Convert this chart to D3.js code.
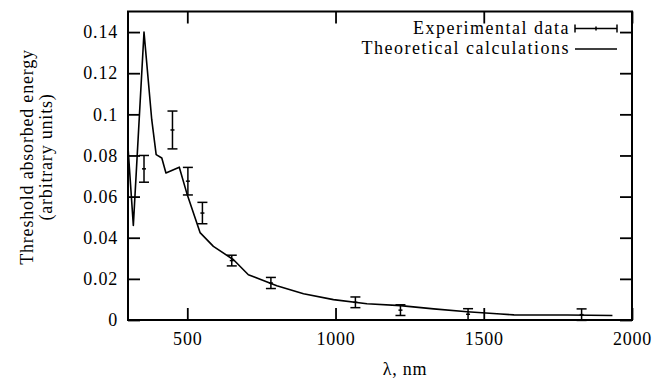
<!DOCTYPE html>
<html><head><meta charset="utf-8">
<script src="https://cdn.jsdelivr.net/npm/d3@7"></script>
<style>
body{margin:0;background:#fff}
svg{display:block}
</style>
</head><body>
<svg id="chart" width="663" height="381"></svg>
<script>
// ---- data ----
const xTicks = [500, 1000, 1500, 2000];
const yTicks = [0, 0.02, 0.04, 0.06, 0.08, 0.1, 0.12, 0.14];
const yTickLabels = ["0", "0.02", "0.04", "0.06", "0.08", "0.1", "0.12", "0.14"];

const theoryX = [300, 318, 354, 380, 395, 414, 428, 473, 498, 543, 588, 656, 706, 802, 892, 993, 1106, 1219, 1331, 1444, 1557, 1602, 1782, 1934];
const theoryY = [0.084, 0.046, 0.140, 0.0975, 0.0804, 0.0788, 0.0715, 0.0743, 0.0618, 0.0425, 0.0358, 0.0293, 0.0220, 0.0167, 0.0128, 0.0099, 0.0079, 0.0070, 0.0054, 0.0040, 0.0029, 0.0025, 0.0024, 0.0022];

const expX   = [354, 450, 502, 551, 650, 782, 1067, 1219, 1447, 1830];
const expY   = [0.0735, 0.0924, 0.0675, 0.052, 0.0289, 0.018, 0.0086, 0.0048, 0.0028, 0.0026];
const expErr = [0.0065, 0.0092, 0.0067, 0.0052, 0.0026, 0.0027, 0.0026, 0.0026, 0.0027, 0.0028];

const seriesNames = ["Experimental data", "Theoretical calculations"];
const xLabel = "λ, nm";
const yLabelLines = ["Threshold absorbed energy", "(arbitrary units)"];

// ---- layout ----
const W = 663, H = 381;
const m = {left: 128, right: 31, top: 11.5, bottom: 61};
const iw = W - m.left - m.right, ih = H - m.top - m.bottom;
const svg = d3.select("#chart");
const g = svg.append("g").attr("transform", `translate(${m.left},${m.top})`);
const FONT = '"Liberation Serif"';
const fs = 18;
const sw = 1.8;
function styleText(sel, size = fs, spacing = 0.8) {
  return sel.style("font-family", FONT).style("font-size", size + "px")
    .style("letter-spacing", spacing + "px").style("fill", "#000");
}

const x = d3.scaleLinear().domain([300, 2000]).range([0, iw]);
const y = d3.scaleLinear().domain([0, 0.15]).range([ih, 0]);

// axes (inward ticks, mirrored)
const ax = [
  g.append("g").attr("transform", `translate(0,${ih})`)
    .call(d3.axisBottom(x).tickValues(xTicks).tickFormat(d3.format("d")).tickSize(-12).tickPadding(12)),
  g.append("g")
    .call(d3.axisLeft(y).tickValues(yTicks).tickFormat((d, i) => yTickLabels[i]).tickSize(-12).tickPadding(10)),
  g.append("g")
    .call(d3.axisTop(x).tickValues(xTicks).tickFormat("").tickSize(-12)),
  g.append("g").attr("transform", `translate(${iw},0)`)
    .call(d3.axisRight(y).tickValues(yTicks).tickFormat("").tickSize(-12))
];
ax.forEach(a => {
  a.select(".domain").remove();
  a.selectAll("line").attr("stroke", "#000").attr("stroke-width", sw);
  styleText(a.selectAll("text"));
});

// frame
g.append("rect").attr("x", 0).attr("y", 0).attr("width", iw).attr("height", ih)
  .attr("fill", "none").attr("stroke", "#000").attr("stroke-width", 2);

// theory curve
const theory = theoryX.map((v, i) => [v, theoryY[i]]);
g.append("path").datum(theory)
  .attr("d", d3.line().x(d => x(d[0])).y(d => y(d[1])))
  .attr("fill", "none").attr("stroke", "#000").attr("stroke-width", 1.6).attr("stroke-linejoin", "round");

// error bars
const exp = expX.map((v, i) => ({x: v, y: expY[i], e: expErr[i]}));
const eb = g.append("g").attr("stroke", "#000").attr("stroke-width", 1.5).attr("fill", "none");
exp.forEach(d => {
  const cx = x(d.x), y1 = y(d.y - d.e), y2 = y(d.y + d.e), cy = y(d.y);
  eb.append("line").attr("x1", cx).attr("x2", cx).attr("y1", y1).attr("y2", y2);
  eb.append("line").attr("x1", cx - 5).attr("x2", cx + 5).attr("y1", y1).attr("y2", y1);
  eb.append("line").attr("x1", cx - 5).attr("x2", cx + 5).attr("y1", y2).attr("y2", y2);
  eb.append("line").attr("x1", cx - 2).attr("x2", cx + 2).attr("y1", cy).attr("y2", cy);
});

// legend
const lg = svg.append("g");
const lx1 = 575, lx2 = 617, textX = 570;
styleText(lg.append("text").attr("x", textX).attr("y", 33.5).attr("text-anchor", "end").text(seriesNames[0]), 18, 1.5);
styleText(lg.append("text").attr("x", textX).attr("y", 54).attr("text-anchor", "end").text(seriesNames[1]), 18, 1.5);
const ly1 = 28.5, ly2 = 49;
const ls = lg.append("g").attr("stroke", "#000").attr("stroke-width", 1.5);
ls.append("line").attr("x1", lx1).attr("x2", lx2).attr("y1", ly1).attr("y2", ly1);
ls.append("line").attr("x1", lx1).attr("x2", lx1).attr("y1", ly1 - 4).attr("y2", ly1 + 4);
ls.append("line").attr("x1", lx2).attr("x2", lx2).attr("y1", ly1 - 4).attr("y2", ly1 + 4);
ls.append("line").attr("x1", (lx1 + lx2) / 2).attr("x2", (lx1 + lx2) / 2).attr("y1", ly1 - 2).attr("y2", ly1 + 2);
ls.append("line").attr("x1", lx1).attr("x2", lx2).attr("y1", ly2).attr("y2", ly2);

// axis titles
styleText(svg.append("text").attr("x", 405).attr("y", 375).attr("text-anchor", "middle").text(xLabel));
const yl = svg.append("g").attr("transform", "translate(0,157) rotate(-90)");
styleText(yl.append("text").attr("x", 0).attr("y", 33).attr("text-anchor", "middle").text(yLabelLines[0]));
styleText(yl.append("text").attr("x", 0).attr("y", 52).attr("text-anchor", "middle").text(yLabelLines[1]));
</script>
</body></html>
